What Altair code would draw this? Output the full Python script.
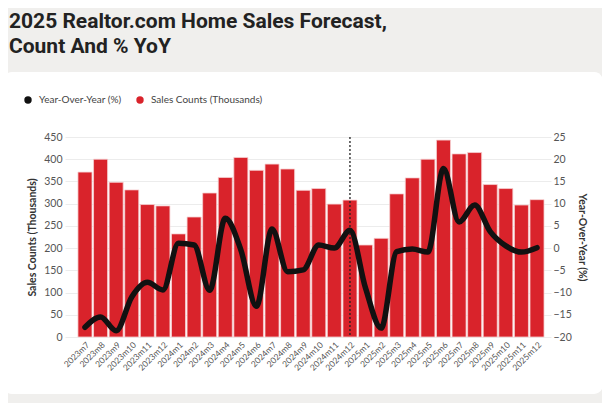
import altair as alt
import pandas as pd

months = ["2023m7", "2023m8", "2023m9", "2023m10", "2023m11", "2023m12",
          "2024m1", "2024m2", "2024m3", "2024m4", "2024m5", "2024m6",
          "2024m7", "2024m8", "2024m9", "2024m10", "2024m11", "2024m12",
          "2025m1", "2025m2", "2025m3", "2025m4", "2025m5", "2025m6",
          "2025m7", "2025m8", "2025m9", "2025m10", "2025m11", "2025m12"]
sales = [371, 400, 348, 331, 298, 295,
         232, 270, 324, 359, 404, 375,
         389, 378, 330, 334, 299, 308,
         207, 222, 322, 358, 400, 443,
         412, 415, 343, 334, 297, 309]
yoy = [-17.8, -15.5, -18.6, -11.0, -7.7, -9.4,
       1.1, 0.7, -9.5, 6.7, -0.4, -13.1,
       4.3, -5.3, -4.9, 0.7, 0.0, 4.0,
       -9.0, -18.0, -0.8, -0.2, -0.9, 17.9,
       5.9, 9.7, 3.7, 0.5, -0.9, 0.1]
sales_ticks = [0, 50, 100, 150, 200, 250, 300, 350, 400, 450]
yoy_ticks = [-20, -15, -10, -5, 0, 5, 10, 15, 20, 25]
marker_month = "2024m12"
title_lines = ["2025 Realtor.com Home Sales Forecast,", "Count And % YoY"]
leg_yoy = "Year-Over-Year (%)"
leg_sales = "Sales Counts (Thousands)"

df = pd.DataFrame({"month": months, "sales": sales, "yoy": yoy})
one = pd.DataFrame({"k": [0]})

W, H = 486, 200
GRAY = "#f0efed"
RED = "#d9232b"

x_enc = alt.X("month:N",
              scale=alt.Scale(domain=months, paddingInner=0.1, paddingOuter=0.64, align=0.65),
              axis=alt.Axis(title=None, labelAngle=-45, labelFont="Lato", labelFontSize=8.5,
                            labelColor="#555", domain=False, ticks=False, labelPadding=3,
                            grid=False))

color_scale = alt.Scale(domain=[leg_yoy, leg_sales], range=["#111111", RED])
legend = alt.Legend(title=None, orient="none", legendX=-42, legendY=-42, direction="horizontal",
                    symbolType="circle", symbolSize=55, symbolStrokeWidth=0,
                    labelFont="Lato", labelFontSize=10, labelColor="#444",
                    columnPadding=13, labelOffset=6, padding=0, zindex=1)

bars = alt.Chart(df).transform_calculate(s=f"'{leg_sales}'").mark_bar(
    stroke="#f6d0d2", strokeWidth=0.8
).encode(
    x=x_enc,
    y=alt.Y("sales:Q", scale=alt.Scale(domain=[0, 450], nice=False),
            axis=alt.Axis(orient="left", values=sales_ticks, title=leg_sales,
                          labelFont="Lato", labelFontSize=10.5, labelColor="#555",
                          labelPadding=3, ticks=False, domain=False, grid=True,
                          gridColor="#ececec", gridWidth=1,
                          titleFont="Lato", titleFontSize=10.5, titleFontWeight="bold",
                          titleColor="#333", titlePadding=6)),
    color=alt.Color("s:N", scale=color_scale, legend=legend),
)

rule = alt.Chart(df).transform_filter(alt.datum.month == marker_month).mark_rule(
    strokeDash=[2, 2], strokeWidth=1.3, color="#222"
).encode(x=x_enc)

line = alt.Chart(df).transform_calculate(s=f"'{leg_yoy}'").mark_line(
    interpolate="monotone", strokeWidth=5.5, strokeCap="round", strokeJoin="round"
).encode(
    x=x_enc,
    y=alt.Y("yoy:Q", scale=alt.Scale(domain=[-20, 25], nice=False),
            axis=alt.Axis(orient="right", values=yoy_ticks, title=leg_yoy,
                          labelFont="Lato", labelFontSize=10.5, labelColor="#555",
                          labelPadding=2, ticks=False, domain=False, grid=False,
                          titleFont="Lato", titleFontSize=10.5, titleFontWeight="bold",
                          titleColor="#333", titlePadding=5)),
    color=alt.Color("s:N", scale=color_scale, legend=legend),
)

# page background and white card edges (decoration)
gray_top = alt.Chart(one).mark_rect(color=GRAY).encode(
    x=alt.value(-70), x2=alt.value(W + 70), y=alt.value(-140), y2=alt.value(-55))
card_top = alt.Chart(one).mark_rect(color="white", cornerRadius=9).encode(
    x=alt.value(-62), x2=alt.value(W + 52), y=alt.value(-65), y2=alt.value(-40))
gray_bot = alt.Chart(one).mark_rect(color=GRAY).encode(
    x=alt.value(-70), x2=alt.value(W + 70), y=alt.value(249), y2=alt.value(280))
card_bot = alt.Chart(one).mark_rect(color="white", cornerRadius=9).encode(
    x=alt.value(-62), x2=alt.value(W + 52), y=alt.value(235), y2=alt.value(257))

t1 = alt.Chart(one).mark_text(text=title_lines[0], align="left", baseline="alphabetic",
                              font="Roboto", fontSize=21, fontWeight="bold", color="#222").encode(
    x=alt.value(-56), y=alt.value(-109))
t2 = alt.Chart(one).mark_text(text=title_lines[1], align="left", baseline="alphabetic",
                              font="Roboto", fontSize=21, fontWeight="bold", color="#222").encode(
    x=alt.value(-56), y=alt.value(-84))

chart = alt.layer(gray_top, card_top, gray_bot, card_bot, bars, rule, line, t1, t2).resolve_scale(
    y="independent"
).properties(
    width=W, height=H,
    padding={"left": 57, "top": 129, "right": 51, "bottom": 66},
    autosize=alt.AutoSizeParams(type="none"),
    background="white",
).configure_view(stroke=None)

chart.save("out.html", embed_options={"renderer": "svg", "actions": False})
